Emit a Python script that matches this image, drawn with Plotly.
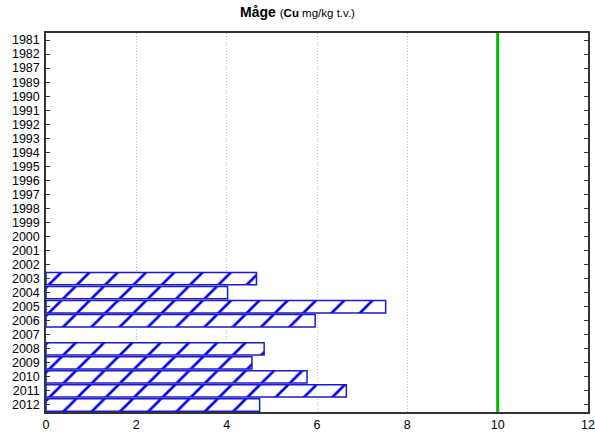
import plotly.graph_objects as go

years = ["1981", "1982", "1987", "1989", "1990", "1991", "1992", "1993", "1994",
         "1995", "1996", "1997", "1998", "1999", "2000", "2001", "2002", "2003",
         "2004", "2005", "2006", "2007", "2008", "2009", "2010", "2011", "2012"]
values = [None, None, None, None, None, None, None, None, None,
          None, None, None, None, None, None, None, None, 4.66,
          4.02, 7.52, 5.96, None, 4.83, 4.56, 5.78, 6.65, 4.73]
limit_value = 10
x_ticks = [0, 2, 4, 6, 8, 10, 12]

fig = go.Figure()
fig.add_trace(go.Bar(
    y=years, x=values, orientation="h",
    marker=dict(
        color="white",
        line=dict(color="#1a1ad0", width=1.5),
        pattern=dict(shape="/", fgcolor="#0000ee", bgcolor="white",
                     size=20, solidity=0.13, fillmode="replace"),
    ),
    showlegend=False,
))

fig.add_shape(type="line", x0=limit_value, x1=limit_value, y0=0, y1=1,
              xref="x", yref="paper", line=dict(color="#00bb00", width=3))

fig.update_layout(
    width=595, height=434,
    margin=dict(l=46, r=7, t=33, b=22, autoexpand=False),
    plot_bgcolor="white", paper_bgcolor="white",
    bargap=0.12,
    font=dict(family="Liberation Sans, Arial, sans-serif", size=12.5, color="black"),
    title=dict(text="<b>Måge</b> <span style='font-size:11.5px'>(<b>Cu</b> mg/kg t.v.)</span>",
               x=0.5, xanchor="center", y=0.971, yanchor="middle",
               font=dict(size=14)),
)
fig.update_xaxes(
    range=[0, 12], tickvals=x_ticks, ticks="", showline=True, linecolor="#333",
    linewidth=1.5, mirror=True, showgrid=True, gridcolor="#b8b8b8",
    griddash="1px,2px", gridwidth=1, zeroline=False, tickfont=dict(size=12.5),
    automargin=False,
)
fig.update_yaxes(
    categoryorder="array", categoryarray=years, autorange="reversed",
    tickmode="array", tickvals=years, ticktext=years,
    ticks="inside", ticklen=4, tickcolor="#333", showline=True, linecolor="#333",
    linewidth=1.5, mirror="ticks", showgrid=False, tickfont=dict(size=12.5),
    automargin=False, ticklabelstandoff=2,
)
fig.write_html("out.html", config={"displayModeBar": False},
               post_script="document.body.style.margin='0';document.body.style.padding='0';")
